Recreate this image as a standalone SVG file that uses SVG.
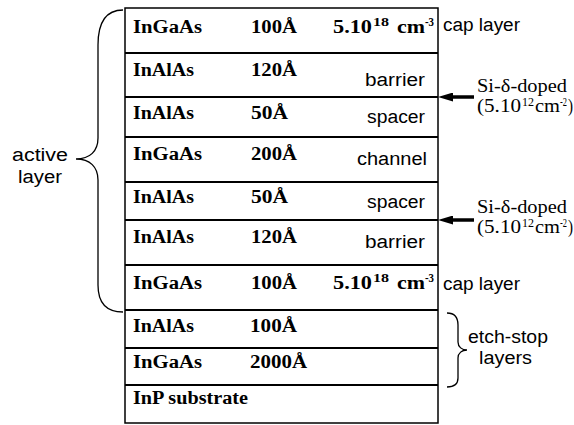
<svg xmlns="http://www.w3.org/2000/svg" width="574" height="425" viewBox="0 0 574 425">
<style>
.frame{fill:#fff;stroke:#000;stroke-width:1.5}
.sep{stroke:#000;stroke-width:1.8}
.mat{font-family:"Liberation Serif","Times New Roman",serif;font-weight:bold;font-size:18px;fill:#000}
.sup{font-size:12px}
.role{font-family:"Liberation Sans",Arial,sans-serif;font-size:18px;fill:#000}
.dop{font-family:"Liberation Serif","Times New Roman",serif;font-size:19px;fill:#000}
.dsup{font-size:12px}
.brace{fill:none;stroke:#000;stroke-width:1.3}
.arrow{stroke:#000;stroke-width:3.5;fill:none}
</style>
<defs>
<marker id="ah" markerWidth="15" markerHeight="9" refX="7" refY="4.5" orient="auto" markerUnits="userSpaceOnUse">
<path d="M0,0 L15,4.5 L0,9 Z" fill="#000"/>
</marker>
</defs>
<rect class="frame" x="125" y="8" width="313" height="415"/>
<g id="separators">
<line class="sep" x1="125" y1="53" x2="438" y2="53"/>
<line class="sep" x1="125" y1="97" x2="438" y2="97"/>
<line class="sep" x1="125" y1="137" x2="438" y2="137"/>
<line class="sep" x1="125" y1="182" x2="438" y2="182"/>
<line class="sep" x1="125" y1="220" x2="438" y2="220"/>
<line class="sep" x1="125" y1="265" x2="438" y2="265"/>
<line class="sep" x1="125" y1="310" x2="438" y2="310"/>
<line class="sep" x1="125" y1="348" x2="438" y2="348"/>
<line class="sep" x1="125" y1="385" x2="438" y2="385"/>
</g>
<g id="layer1">
<text class="mat" x="133" y="33" textLength="69" lengthAdjust="spacingAndGlyphs">InGaAs</text>
<text class="mat" x="251" y="33" textLength="46" lengthAdjust="spacingAndGlyphs">100Å</text>
<text class="mat" x="333" y="33" textLength="39" lengthAdjust="spacingAndGlyphs">5.10</text>
<text class="mat sup" x="373" y="26" textLength="16" lengthAdjust="spacingAndGlyphs">18</text>
<text class="mat" x="397" y="33" textLength="28" lengthAdjust="spacingAndGlyphs">cm</text>
<text class="mat sup" x="425" y="26" textLength="9" lengthAdjust="spacingAndGlyphs">-3</text>
</g>
<g id="layer2">
<text class="mat" x="133" y="76" textLength="61" lengthAdjust="spacingAndGlyphs">InAlAs</text>
<text class="mat" x="251" y="76" textLength="46" lengthAdjust="spacingAndGlyphs">120Å</text>
<text class="role" x="365" y="86" textLength="60" lengthAdjust="spacingAndGlyphs">barrier</text>
</g>
<g id="layer3">
<text class="mat" x="133" y="119" textLength="61" lengthAdjust="spacingAndGlyphs">InAlAs</text>
<text class="mat" x="251" y="119" textLength="37" lengthAdjust="spacingAndGlyphs">50Å</text>
<text class="role" x="367" y="123" textLength="58" lengthAdjust="spacingAndGlyphs">spacer</text>
</g>
<g id="layer4">
<text class="mat" x="133" y="160" textLength="69" lengthAdjust="spacingAndGlyphs">InGaAs</text>
<text class="mat" x="251" y="160" textLength="46" lengthAdjust="spacingAndGlyphs">200Å</text>
<text class="role" x="357" y="165" textLength="70" lengthAdjust="spacingAndGlyphs">channel</text>
</g>
<g id="layer5">
<text class="mat" x="133" y="203" textLength="61" lengthAdjust="spacingAndGlyphs">InAlAs</text>
<text class="mat" x="251" y="203" textLength="37" lengthAdjust="spacingAndGlyphs">50Å</text>
<text class="role" x="367" y="208" textLength="58" lengthAdjust="spacingAndGlyphs">spacer</text>
</g>
<g id="layer6">
<text class="mat" x="133" y="243" textLength="61" lengthAdjust="spacingAndGlyphs">InAlAs</text>
<text class="mat" x="251" y="243" textLength="46" lengthAdjust="spacingAndGlyphs">120Å</text>
<text class="role" x="365" y="248" textLength="60" lengthAdjust="spacingAndGlyphs">barrier</text>
</g>
<g id="layer7">
<text class="mat" x="133" y="289" textLength="69" lengthAdjust="spacingAndGlyphs">InGaAs</text>
<text class="mat" x="251" y="289" textLength="46" lengthAdjust="spacingAndGlyphs">100Å</text>
<text class="mat" x="333" y="289" textLength="39" lengthAdjust="spacingAndGlyphs">5.10</text>
<text class="mat sup" x="373" y="282" textLength="16" lengthAdjust="spacingAndGlyphs">18</text>
<text class="mat" x="397" y="289" textLength="28" lengthAdjust="spacingAndGlyphs">cm</text>
<text class="mat sup" x="425" y="282" textLength="9" lengthAdjust="spacingAndGlyphs">-3</text>
</g>
<g id="layer8">
<text class="mat" x="133" y="332" textLength="61" lengthAdjust="spacingAndGlyphs">InAlAs</text>
<text class="mat" x="250" y="332" textLength="47" lengthAdjust="spacingAndGlyphs">100Å</text>
</g>
<g id="layer9">
<text class="mat" x="133" y="368" textLength="69" lengthAdjust="spacingAndGlyphs">InGaAs</text>
<text class="mat" x="250" y="368" textLength="57" lengthAdjust="spacingAndGlyphs">2000Å</text>
</g>
<g id="layer10">
<text class="mat" x="133" y="404" textLength="115" lengthAdjust="spacingAndGlyphs">InP substrate</text>
</g>
<g id="cap-top">
<text class="role" x="443" y="31" textLength="77" lengthAdjust="spacingAndGlyphs">cap layer</text>
</g>
<g id="cap-bottom">
<text class="role" x="443" y="290" textLength="77" lengthAdjust="spacingAndGlyphs">cap layer</text>
</g>
<g id="active-layer">
<path class="brace" d="M123,10 C106,10 98,22 98,45 L98,138 C98,151 90,159 76,159 C90,159 98,167 98,180 L98,285 C98,303 106,312 123,312"/>
<text class="role" x="12" y="161" textLength="56" lengthAdjust="spacingAndGlyphs">active</text>
<text class="role" x="18" y="183" textLength="44" lengthAdjust="spacingAndGlyphs">layer</text>
</g>
<g id="etch-stop">
<path class="brace" d="M447,313 C455,313 458,317 458,325 L458,342 C458,347 462,350 467,350 C462,350 458,353 458,358 L458,378 C458,384 455,387 447,387"/>
<text class="role" x="468" y="343" textLength="80" lengthAdjust="spacingAndGlyphs">etch-stop</text>
<text class="role" x="479" y="364" textLength="53" lengthAdjust="spacingAndGlyphs">layers</text>
</g>
<g id="doping-top">
<text class="dop" x="477" y="92" textLength="90" lengthAdjust="spacingAndGlyphs">Si-δ-doped</text>
<text class="dop" x="477" y="112" textLength="44" lengthAdjust="spacingAndGlyphs">(5.10</text>
<text class="dop dsup" x="522" y="106" textLength="12" lengthAdjust="spacingAndGlyphs">12</text>
<text class="dop" x="535" y="112" textLength="25" lengthAdjust="spacingAndGlyphs">cm</text>
<text class="dop dsup" x="560" y="106" textLength="7" lengthAdjust="spacingAndGlyphs">-2</text>
<text class="dop" x="568" y="112" textLength="5" lengthAdjust="spacingAndGlyphs">)</text>
</g>
<g id="doping-bottom">
<text class="dop" x="477" y="213" textLength="90" lengthAdjust="spacingAndGlyphs">Si-δ-doped</text>
<text class="dop" x="477" y="233" textLength="44" lengthAdjust="spacingAndGlyphs">(5.10</text>
<text class="dop dsup" x="522" y="227" textLength="12" lengthAdjust="spacingAndGlyphs">12</text>
<text class="dop" x="535" y="233" textLength="25" lengthAdjust="spacingAndGlyphs">cm</text>
<text class="dop dsup" x="560" y="227" textLength="7" lengthAdjust="spacingAndGlyphs">-2</text>
<text class="dop" x="568" y="233" textLength="5" lengthAdjust="spacingAndGlyphs">)</text>
</g>
<g id="connectors">
<line class="arrow" x1="474" y1="97" x2="446" y2="97" marker-end="url(#ah)"/>
<line class="arrow" x1="474" y1="220" x2="446" y2="220" marker-end="url(#ah)"/>
</g>
</svg>
